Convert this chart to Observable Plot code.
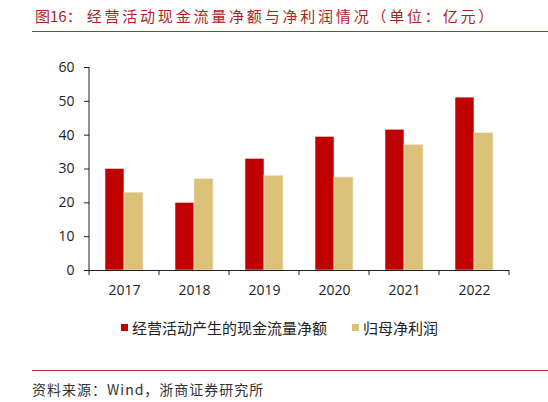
<!DOCTYPE html>
<html>
<head>
<meta charset="utf-8">
<script src="https://cdn.jsdelivr.net/npm/d3@7"></script>
<script src="https://cdn.jsdelivr.net/npm/@observablehq/plot@0.6"></script>
<style>
  body { margin: 0; width: 548px; background: #fff; font-family: "Noto Sans CJK SC", "Noto Sans", sans-serif; }
  #title { height: 31px; margin-left: 32px; border-bottom: 1px solid #c0262d; color: #b01e26;
           font-size: 15px; line-height: 31px; white-space: nowrap; }
  #title .num { margin-left: 3px; }
  #title .txt { margin-left: 5px; letter-spacing: 2.8px; }
  #legend { margin-top: 10px; height: 20px; display: flex; align-items: center; padding-left: 121px;
            font-size: 15px; color: #222; }
  #legend .sw { width: 7px; height: 7px; margin-right: 4px; }
  #legend .item { display: flex; align-items: center; }
  #source { margin-top: 33px; margin-left: 32px; border-top: 1px solid #c0262d; padding-top: 8px;
            font-size: 14px; letter-spacing: 1px; color: #333; line-height: 20px; }
</style>
</head>
<body>
<div id="title"><span class="num">图16：</span><span class="txt">经营活动现金流量净额与净利润情况（单位：亿元）</span></div>
<div id="chart"></div>
<div id="legend"></div>
<div id="source">资料来源：Wind，浙商证券研究所</div>
<script>
// datos
const years = ["2017", "2018", "2019", "2020", "2021", "2022"]
const series = ["经营活动产生的现金流量净额", "归母净利润"]
const cashFlow = [30, 20, 33, 39.5, 41.6, 51.1]
const netProfit = [23, 27, 28, 27.5, 37.1, 40.6]
const yTicks = [0, 10, 20, 30, 40, 50, 60]
const colors = ["#c00000", "#dcc178"]

// tabla larga para Plot
const data = years.flatMap((year, i) => [
  {year, series: series[0], value: cashFlow[i]},
  {year, series: series[1], value: netProfit[i]},
])

let chart = Plot.plot({
  width: 548,
  height: 275,
  marginLeft: 88,
  marginRight: 38,
  marginTop: 35,
  marginBottom: 37,
  fx: {domain: years, padding: 0, label: null},
  x: {domain: series, paddingInner: 0, paddingOuter: 0.755, axis: null},
  y: {domain: [0, 60], label: null},
  color: {domain: series, range: colors},
  style: {fontFamily: '"Open Sans", sans-serif', fontSize: 14, color: "#222", background: "white"},
  marks: [
    Plot.barY(data, {fx: "year", x: "series", y: "value", fill: "series", stroke: "#f3e6e0", strokeWidth: 0.6}),
    Plot.ruleY([0], {stroke: "#222"}),
    Plot.axisY({ticks: yTicks, tickSize: 5, tickPadding: 10, label: null, stroke: "#222"}),
    Plot.axisFx({anchor: "bottom", tickSize: 0, tickPadding: 15, label: null}),
  ],
})

// línea del eje y y marcas entre años, usando las escalas de Plot
const fx = chart.scale("fx")
const ys = chart.scale("y")
const edges = years.map(d => fx.apply(d)).concat(fx.apply(years[years.length - 1]) + fx.bandwidth)
const g = d3.select(chart).append("g").attr("stroke", "#222")
g.append("line")
  .attr("x1", edges[0]).attr("x2", edges[0])
  .attr("y1", ys.apply(60)).attr("y2", ys.apply(0))
g.selectAll(".edge").data(edges).join("line")
  .attr("x1", d => d).attr("x2", d => d)
  .attr("y1", ys.apply(0)).attr("y2", ys.apply(0) + 5)

d3.select('#chart').append(() => chart)

// leyenda
const legend = d3.select('#legend')
series.forEach((s, i) => {
  const item = legend.append("div").attr("class", "item").style("margin-right", i === 0 ? "25px" : "0")
  item.append("div").attr("class", "sw").style("background", colors[i])
  item.append("span").text(s)
})
</script>
</body>
</html>
